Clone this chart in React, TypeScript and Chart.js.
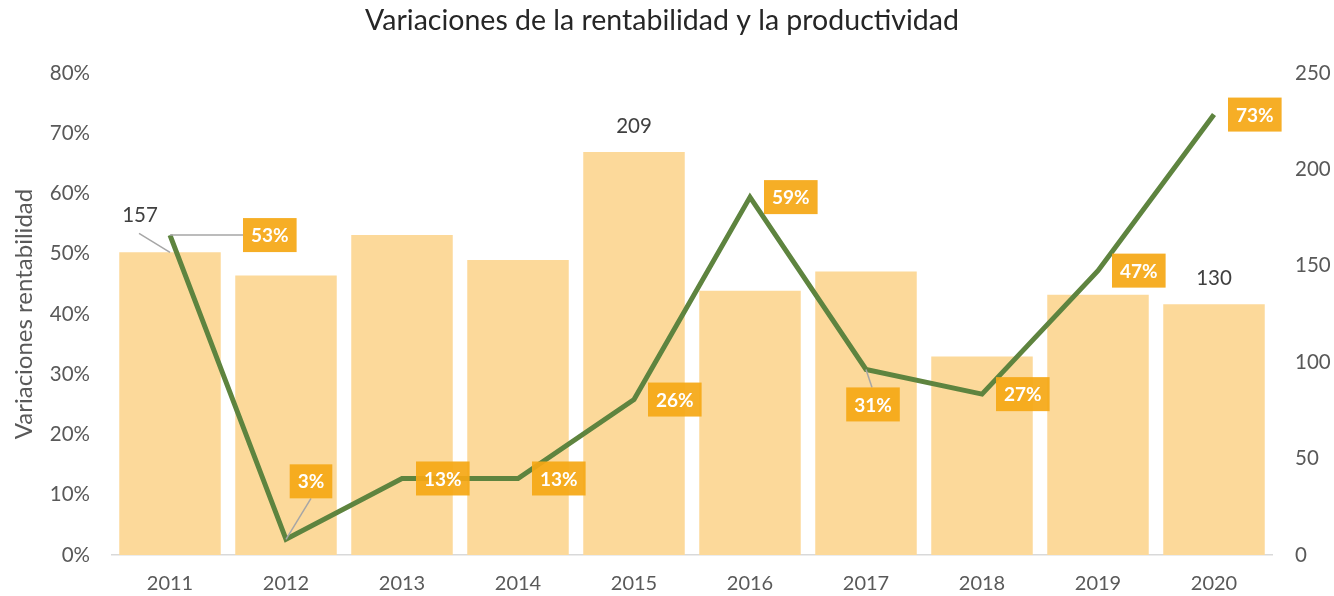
import React, { useEffect, useRef } from "react";
import { Chart, registerables } from "chart.js";

Chart.register(...registerables);

const years = ["2011", "2012", "2013", "2014", "2015", "2016", "2017", "2018", "2019", "2020"];
const productividad = [157, 145, 166, 153, 209, 137, 147, 103, 135, 130];
const rentabilidad = [53.1, 2.6, 12.7, 12.7, 25.8, 59.4, 30.8, 26.7, 47.2, 73.1];
const leftTicks = [0, 10, 20, 30, 40, 50, 60, 70, 80];
const rightTicks = [0, 50, 100, 150, 200, 250];
const barLabelYears = ["2011", "2015", "2020"];

const TITLE = "Variaciones de la rentabilidad y la productividad";
const FONT = "Lato, 'Open Sans', sans-serif";

// label placement rules (offsets relative to the point), not data
type Place = { dx: number; dy: number; leader?: "h" | "bottom" | "top" };
const linePlacement: Record<string, Place> = {
  "2011": { dx: 73, dy: 0, leader: "h" },
  "2012": { dx: 25, dy: -58, leader: "bottom" },
  "2017": { dx: 7, dy: 35, leader: "top" },
};

const labelPlugin = {
  id: "customLabels",
  afterDatasetsDraw(chart: any) {
    const ctx = chart.ctx as CanvasRenderingContext2D;
    const barMeta = chart.getDatasetMeta(0);
    const lineMeta = chart.getDatasetMeta(1);
    ctx.save();
    // title
    ctx.fillStyle = "#262626";
    ctx.font = `28.5px ${FONT}`;
    ctx.textAlign = "center";
    ctx.textBaseline = "middle";
    ctx.fillText(TITLE, 662, 21);

    // bar labels
    ctx.font = `20.5px ${FONT}`;
    ctx.fillStyle = "#404040";
    years.forEach((y, i) => {
      if (!barLabelYears.includes(y)) return;
      const el = barMeta.data[i];
      const v = productividad[i];
      if (i === 0) {
        ctx.strokeStyle = "#A6A6A6";
        ctx.lineWidth = 1.5;
        ctx.beginPath();
        ctx.moveTo(el.x, el.y);
        ctx.lineTo(el.x - 31, el.y - 19);
        ctx.stroke();
        ctx.fillText(String(v), el.x - 30, el.y - 37);
      } else {
        ctx.fillText(String(v), el.x, el.y - 26);
      }
    });

    // line labels
    ctx.font = `bold 19px ${FONT}`;
    years.forEach((y, i) => {
      const el = lineMeta.data[i];
      const text = `${Math.round(rentabilidad[i])}%`;
      const w = ctx.measureText(text).width + 16;
      const h = 34;
      const p = linePlacement[y];
      let cx: number, cy: number;
      if (p && p.leader === "h") {
        cx = el.x + p.dx + w / 2;
        cy = el.y + p.dy;
      } else if (p) {
        cx = el.x + p.dx;
        cy = el.y + p.dy;
      } else {
        cx = el.x + 14 + w / 2;
        cy = el.y;
      }
      if (p && p.leader) {
        ctx.strokeStyle = "#A6A6A6";
        ctx.lineWidth = 1.5;
        ctx.beginPath();
        ctx.moveTo(el.x, el.y);
        if (p.leader === "h") ctx.lineTo(cx - w / 2, el.y);
        else if (p.leader === "bottom") ctx.lineTo(cx, cy + h / 2);
        else ctx.lineTo(cx - 1, cy - h / 2);
        ctx.stroke();
      }
      ctx.fillStyle = "rgba(245,168,22,0.93)";
      ctx.fillRect(cx - w / 2, cy - h / 2, w, h);
      ctx.fillStyle = "#FFFFFF";
      ctx.textAlign = "center";
      ctx.textBaseline = "middle";
      ctx.fillText(text, cx, cy + 1);
    });
    ctx.restore();
  },
};

export default function App() {
  const ref = useRef<HTMLCanvasElement>(null);
  useEffect(() => {
    if (!ref.current) return;
    const chart = new Chart(ref.current, {
      type: "bar",
      data: {
        labels: years,
        datasets: [
          {
            type: "bar",
            label: "Productividad",
            data: productividad,
            yAxisID: "yRight",
            backgroundColor: "#FCD99A",
            barPercentage: 0.875,
            categoryPercentage: 1,
            order: 2,
          },
          {
            type: "line",
            label: "Rentabilidad",
            data: rentabilidad,
            yAxisID: "yLeft",
            borderColor: "#5E843F",
            borderWidth: 5,
            pointRadius: 0,
            tension: 0,
            fill: false,
            order: 1,
          } as any,
        ],
      },
      options: {
        responsive: false,
        animation: false,
        layout: { padding: { top: 73, left: 0, right: 0, bottom: 0 } },
        plugins: {
          legend: { display: false },
          title: { display: false },
          tooltip: { enabled: false },
        },
        scales: {
          x: {
            grid: { display: false, drawTicks: false },
            border: { display: true, color: "#D9D9D9", width: 1.5 },
            ticks: { color: "#595959", font: { family: FONT, size: 20 }, padding: 17 },
            afterFit: (s: any) => {
              s.height = 41;
            },
          },
          yLeft: {
            position: "left",
            min: 0,
            max: 80,
            afterBuildTicks: (s: any) => {
              s.ticks = leftTicks.map((v) => ({ value: v }));
            },
            grid: { display: false, drawTicks: false },
            border: { display: false },
            ticks: {
              color: "#595959",
              font: { family: FONT, size: 20.5 },
              padding: 22,
              callback: (v: any) => `${v}%`,
            },
            title: {
              display: true,
              text: "Variaciones rentabilidad",
              color: "#595959",
              font: { family: FONT, size: 24 },
              padding: { top: 10, bottom: 0 },
            },
            afterFit: (s: any) => {
              s.width = 112;
            },
          },
          yRight: {
            position: "right",
            min: 0,
            max: 250,
            afterBuildTicks: (s: any) => {
              s.ticks = rightTicks.map((v) => ({ value: v }));
            },
            grid: { display: false, drawTicks: false },
            border: { display: false },
            ticks: {
              color: "#595959",
              font: { family: FONT, size: 20.5 },
              padding: 23,
            },
            afterFit: (s: any) => {
              s.width = 62;
            },
          },
        },
      } as any,
      plugins: [labelPlugin],
    });
    return () => chart.destroy();
  }, []);
  return (
    <div style={{ position: "absolute", left: 0, top: 0, width: 1334, height: 596, background: "#fff" }}>
      <canvas ref={ref} width={1334} height={596} style={{ display: "block" }} />
    </div>
  );
}
